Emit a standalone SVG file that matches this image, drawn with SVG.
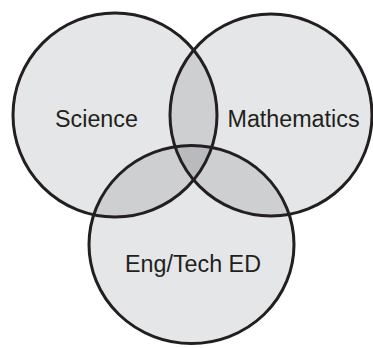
<svg xmlns="http://www.w3.org/2000/svg" width="373" height="348" viewBox="0 0 373 348">
<style>
.c{fill:rgb(0,10,20);fill-opacity:0.1;stroke:none}
.o{fill:none;stroke:#231f20;stroke-width:3}
.t{font-family:"Liberation Sans",Arial,sans-serif;font-size:23.3px;fill:#231f20;text-anchor:middle}
</style>
<rect width="373" height="348" fill="#fff"/>
<g id="fills">
<circle class="c" cx="115" cy="115" r="102"/>
<circle class="c" cx="271" cy="115" r="101"/>
<ellipse class="c" cx="191.5" cy="244.5" rx="102.5" ry="99"/>
</g>
<g id="science"><circle class="o" cx="115" cy="115" r="102"/><text class="t" x="96.5" y="127">Science</text></g>
<g id="mathematics"><circle class="o" cx="271" cy="115" r="101"/><text class="t" x="293.5" y="127">Mathematics</text></g>
<g id="engtech"><ellipse class="o" cx="191.5" cy="244.5" rx="102.5" ry="99"/><text class="t" x="193" y="272">Eng/Tech ED</text></g>
<g id="connectors"/>
</svg>
